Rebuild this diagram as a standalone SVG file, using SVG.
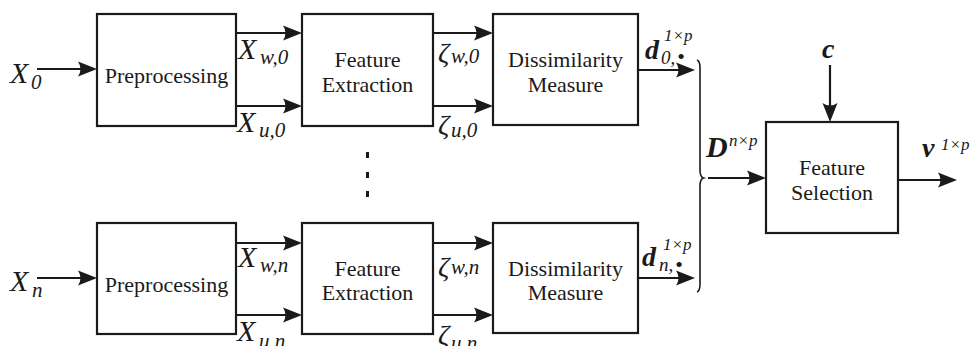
<svg xmlns="http://www.w3.org/2000/svg" width="972" height="346" viewBox="0 0 972 346">
<defs>
<marker id="ah" markerUnits="userSpaceOnUse" viewBox="0 0 20 16" markerWidth="20" markerHeight="16" refX="12" refY="8" orient="auto">
<path d="M20,8 L1,0.5 Q6,8 1,15.5 Z" fill="#1a1a1a"/>
</marker>
</defs>
<rect width="972" height="346" fill="#fff"/>

<g id="nodes" fill="#fff" stroke="#1a1a1a" stroke-width="2.2">
<g id="pre0"><rect x="97" y="14" width="139" height="112"/><text x="166.5" y="83" font-family="Liberation Serif" font-size="22" fill="#1a1a1a" stroke="none" text-anchor="middle">Preprocessing</text></g>
<g id="fe0"><rect x="302" y="14" width="131" height="112"/><text font-family="Liberation Serif" font-size="22" fill="#1a1a1a" stroke="none" text-anchor="middle"><tspan x="367.5" y="67">Feature</tspan><tspan x="367.5" y="92">Extraction</tspan></text></g>
<g id="dm0"><rect x="493" y="14" width="145" height="111"/><text font-family="Liberation Serif" font-size="22" fill="#1a1a1a" stroke="none" text-anchor="middle"><tspan x="565.5" y="67">Dissimilarity</tspan><tspan x="565.5" y="92">Measure</tspan></text></g>
<g id="pren"><rect x="97" y="223" width="139" height="111"/><text x="166.5" y="292" font-family="Liberation Serif" font-size="22" fill="#1a1a1a" stroke="none" text-anchor="middle">Preprocessing</text></g>
<g id="fen"><rect x="302" y="223" width="131" height="111"/><text font-family="Liberation Serif" font-size="22" fill="#1a1a1a" stroke="none" text-anchor="middle"><tspan x="367.5" y="276">Feature</tspan><tspan x="367.5" y="300">Extraction</tspan></text></g>
<g id="dmn"><rect x="493" y="223" width="145" height="110"/><text font-family="Liberation Serif" font-size="22" fill="#1a1a1a" stroke="none" text-anchor="middle"><tspan x="565.5" y="276">Dissimilarity</tspan><tspan x="565.5" y="300">Measure</tspan></text></g>
<g id="fs"><rect x="766" y="122" width="132" height="111"/><text font-family="Liberation Serif" font-size="22" fill="#1a1a1a" stroke="none" text-anchor="middle"><tspan x="832" y="175">Feature</tspan><tspan x="832" y="200">Selection</tspan></text></g>
</g>

<g id="vdots" fill="#1a1a1a">
<rect x="366" y="152" width="3" height="6"/>
<rect x="366" y="172" width="3" height="6"/>
<rect x="366" y="191" width="3" height="6"/>
</g>

<g id="connectors" stroke="#1a1a1a" stroke-width="2.2" marker-end="url(#ah)">
<line x1="37" y1="69" x2="89" y2="69"/>
<line x1="236" y1="33" x2="294" y2="33"/>
<line x1="236" y1="106" x2="294" y2="106"/>
<line x1="433" y1="33" x2="485" y2="33"/>
<line x1="433" y1="106" x2="485" y2="106"/>
<line x1="638" y1="70" x2="687" y2="70"/>
<line x1="37" y1="278" x2="89" y2="278"/>
<line x1="236" y1="243" x2="294" y2="243"/>
<line x1="236" y1="315" x2="294" y2="315"/>
<line x1="433" y1="243" x2="485" y2="243"/>
<line x1="433" y1="315" x2="485" y2="315"/>
<line x1="638" y1="278" x2="687" y2="278"/>
<line x1="708" y1="178" x2="758" y2="178"/>
<line x1="830" y1="65" x2="830" y2="114"/>
<line x1="898" y1="180" x2="949" y2="180"/>
</g>
<path id="brace" fill="none" stroke="#1a1a1a" stroke-width="1.6" d="M697,60 Q700,61 700,68 L700,170 Q700,177 703.5,178 Q700,179 700,186 L700,284 Q700,291 697,292"/>

<g id="labels" font-family="Liberation Serif" font-style="italic" fill="#1a1a1a" font-size="30">
<text x="10" y="83" font-family="Liberation Serif">X<tspan font-size="21" x="31" y="89">0</tspan></text>
<text x="10" y="291" font-family="Liberation Serif">X<tspan font-size="21" x="32" y="297">n</tspan></text>

<text x="238" y="59" font-family="Liberation Serif">X<tspan font-size="21" x="260" y="64">w,0</tspan></text>
<text x="237" y="132" font-family="Liberation Serif">X<tspan font-size="21" x="259" y="137">u,0</tspan></text>
<text x="238" y="267" font-family="Liberation Serif">X<tspan font-size="21" x="260" y="272">w,n</tspan></text>
<text x="237" y="341" font-family="Liberation Serif">X<tspan font-size="21" x="259" y="348">u,n</tspan></text>

<text x="438" y="62" font-size="28" font-family="Liberation Serif">&#950;<tspan font-size="21" x="451" y="63">w,0</tspan></text>
<text x="438" y="134" font-size="28" font-family="Liberation Serif">&#950;<tspan font-size="21" x="451" y="137">u,0</tspan></text>
<text x="438" y="276" font-size="28" font-family="Liberation Serif">&#950;<tspan font-size="21" x="451" y="274">w,n</tspan></text>
<text x="438" y="344" font-size="28" font-family="Liberation Serif">&#950;<tspan font-size="21" x="451" y="350">u,n</tspan></text>

<text x="645" y="59" font-size="28" font-weight="bold" font-family="Liberation Serif">d<tspan font-weight="normal" font-size="17" x="664" y="41">1&#215;p</tspan><tspan font-weight="normal" font-size="19" x="661" y="64">0,</tspan><tspan font-weight="normal" font-size="22" x="677" y="64">&#8226;</tspan></text>
<text x="642" y="266" font-size="28" font-weight="bold" font-family="Liberation Serif">d<tspan font-weight="normal" font-size="17" x="663" y="250">1&#215;p</tspan><tspan font-weight="normal" font-size="19" x="659" y="271">n,</tspan><tspan font-weight="normal" font-size="22" x="675" y="272">&#8226;</tspan></text>

<text x="706" y="157" font-size="30" font-weight="bold" font-family="Liberation Serif">D<tspan font-weight="normal" font-size="17" x="729" y="146">n&#215;p</tspan></text>
<text x="822" y="58" font-size="28" font-weight="bold" font-family="Liberation Serif">c</text>
<text x="922" y="157" font-size="28" font-weight="bold" font-family="Liberation Serif">v<tspan font-weight="normal" font-size="17" x="941" y="150">1&#215;p</tspan></text>
</g>
</svg>
